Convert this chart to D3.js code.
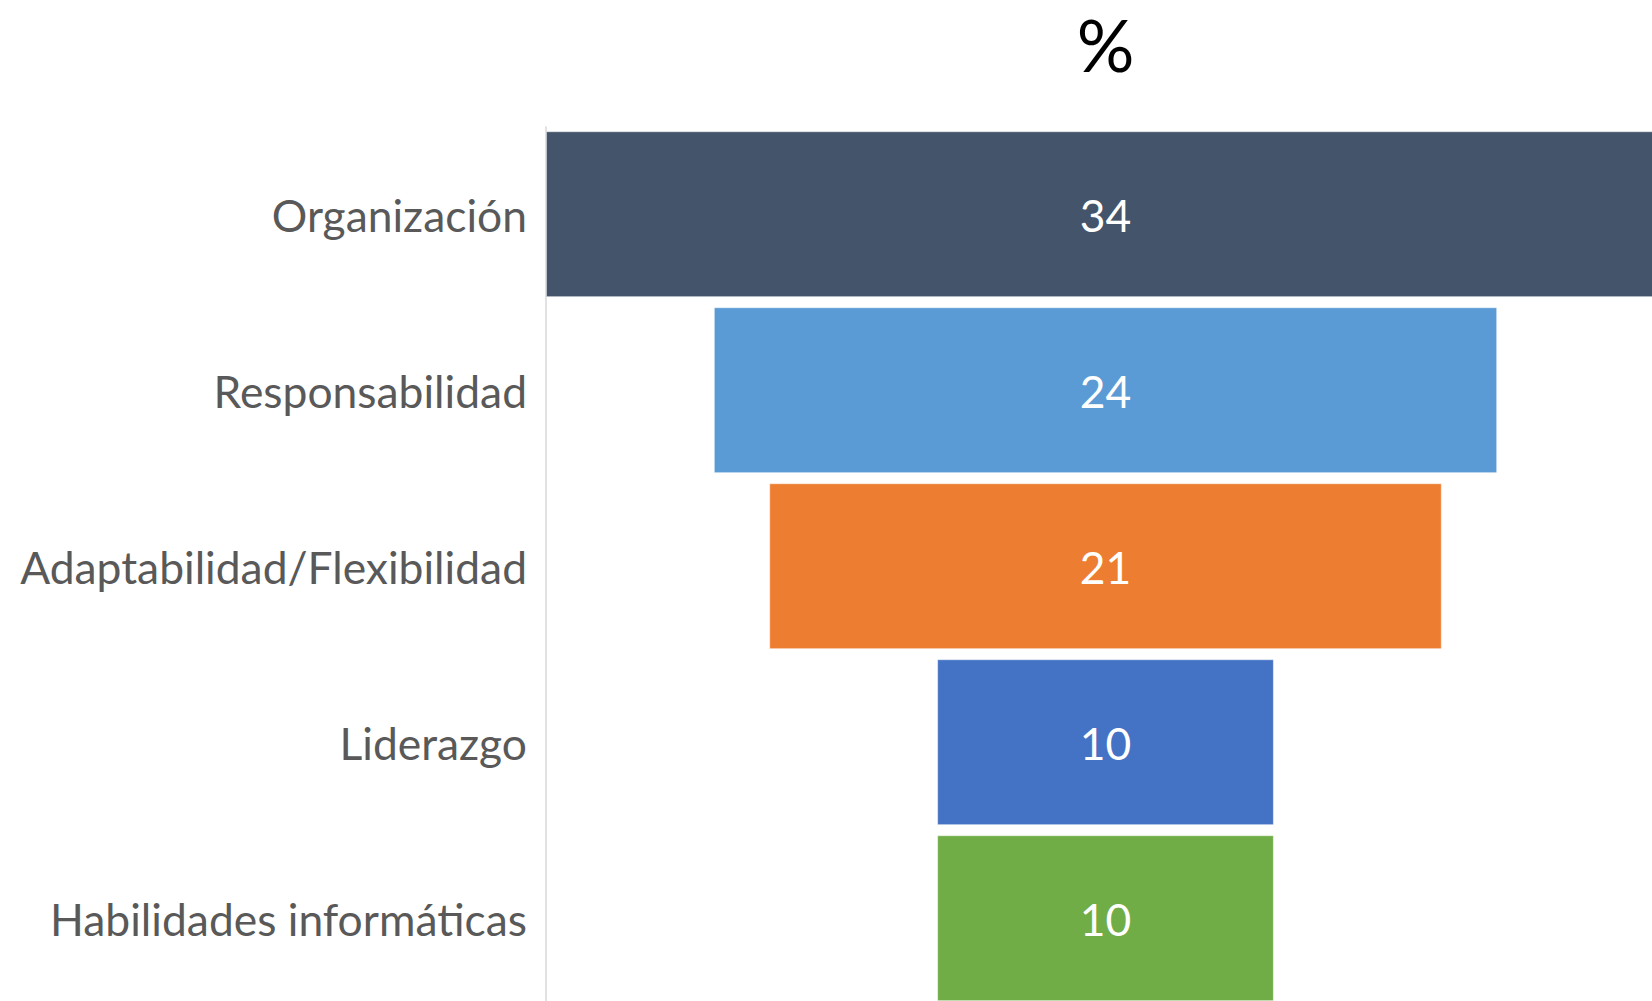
<!DOCTYPE html>
<html>
<head>
<meta charset="utf-8">
<script src="https://cdn.jsdelivr.net/npm/d3@7"></script>
<style>
  html, body { margin: 0; padding: 0; background: #fff; }
  svg { display: block; }
</style>
</head>
<body>
<svg id="chart"></svg>
<script>
// values (labels show rounded numbers)
const categories = ['Organización', 'Responsabilidad', 'Adaptabilidad/Flexibilidad', 'Liderazgo', 'Habilidades informáticas'];
const values = [34.3, 24, 20.6, 10.3, 10.3];
const colors = ['#44546A', '#5B9BD5', '#ED7D31', '#4472C4', '#70AD47'];
const title = '%';

const width = 1652, height = 1001;
const fontFamily = 'Lato, "Open Sans", sans-serif';

let svg = d3.select('#chart')
  .attr('width', width)
  .attr('height', height);

let data = categories.map((c, i) => ({ name: c, value: values[i], color: colors[i] }));

let axisX = 546;
let center = 1105.5;

// funnel: bars centred on one vertical line
let xScale = d3.scaleLinear()
  .domain([-17, 17])
  .range([center - 554.2, center + 554.2]);

let yScale = d3.scaleBand()
  .domain(categories)
  .range([126.2, 1006.2])
  .paddingInner(0.0625)
  .paddingOuter(0.03125);

// category axis line
svg.append('line')
  .attr('x1', axisX)
  .attr('x2', axisX)
  .attr('y1', yScale.range()[0])
  .attr('y2', height)
  .attr('stroke', '#d9d9d9')
  .attr('stroke-width', 1.5);

svg.selectAll('.bar')
  .data(data)
  .enter()
  .append('rect')
  .attr('class', 'bar')
  .attr('x', d => xScale(-d.value / 2))
  .attr('y', d => yScale(d.name))
  .attr('width', d => xScale(d.value / 2) - xScale(-d.value / 2))
  .attr('height', yScale.bandwidth())
  .attr('fill', d => d.color)
  .attr('stroke', '#ffffff')
  .attr('stroke-opacity', 0.5)
  .attr('stroke-width', 1);

let catLabels = svg.selectAll('.cat')
  .data(data)
  .enter()
  .append('text')
  .attr('class', 'cat')
  .attr('x', 527)
  .attr('y', d => yScale(d.name) + yScale.bandwidth() / 2)
  .attr('dy', '0.4em')
  .attr('text-anchor', 'end')
  .attr('fill', '#595959')
  .style('font-family', fontFamily)
  .style('font-size', '40px')
  .text(d => d.name);

// fit the font so the longest label spans the same width as in the picture
let longest = d3.max(catLabels.nodes(), n => n.getComputedTextLength());
let fontSize = 40 * 507 / longest;
catLabels.style('font-size', fontSize + 'px');

svg.selectAll('.val')
  .data(data)
  .enter()
  .append('text')
  .attr('class', 'val')
  .attr('x', center)
  .attr('y', d => yScale(d.name) + yScale.bandwidth() / 2)
  .attr('dy', '0.4em')
  .attr('text-anchor', 'middle')
  .attr('fill', '#ffffff')
  .style('font-family', fontFamily)
  .style('font-size', fontSize + 'px')
  .text(d => d3.format('.0f')(d.value));

svg.append('text')
  .attr('x', center)
  .attr('y', 72)
  .attr('text-anchor', 'middle')
  .attr('fill', '#000000')
  .style('font-family', fontFamily)
  .style('font-size', '72px')
  .text(title);
</script>
</body>
</html>
